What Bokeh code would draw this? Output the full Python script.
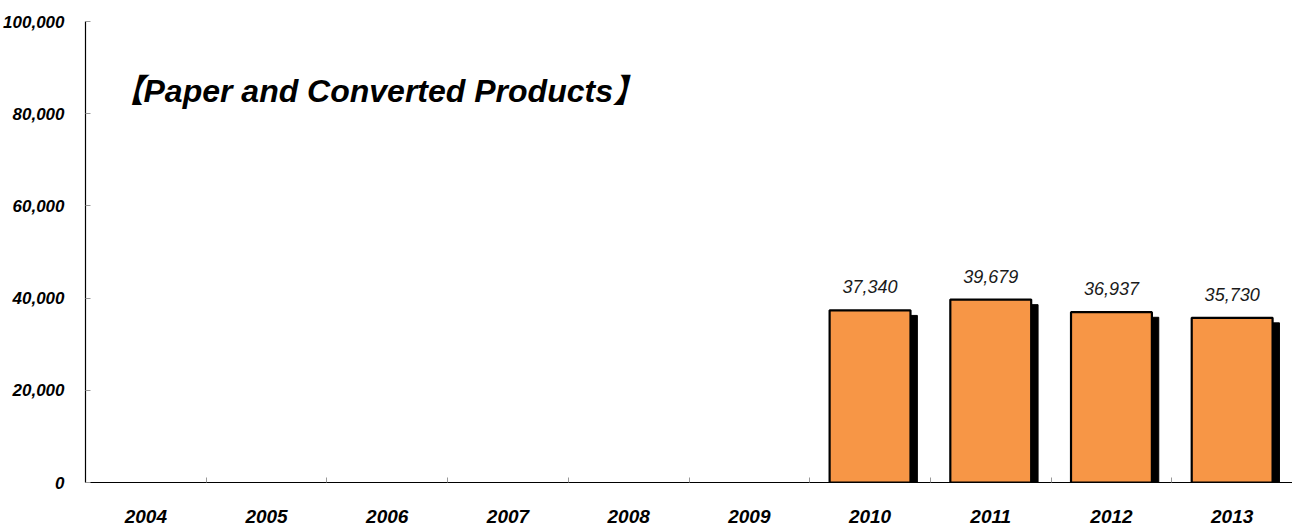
from bokeh.plotting import figure
from bokeh.models import (ColumnDataSource, FixedTicker, NumeralTickFormatter,
                          Label, Range1d)
from bokeh.embed import file_html
from bokeh.resources import INLINE
from bokeh.core.properties import value

# ---- data ----
years = [2004, 2005, 2006, 2007, 2008, 2009, 2010, 2011, 2012, 2013]
shipments = [None, None, None, None, None, None, 37340, 39679, 36937, 35730]
title_text = "【Paper and Converted Products】"
y_ticks = [0, 20000, 40000, 60000, 80000, 100000]

bar_years = [y for y, v in zip(years, shipments) if v is not None]
bar_vals = [v for v in shipments if v is not None]
labels = [f"{v:,}" for v in bar_vals]

src = ColumnDataSource(dict(x=bar_years, top=bar_vals, lab=labels,
                            sx=[y + 0.057 for y in bar_years],
                            stop=[v - 1100 for v in bar_vals]))

FONT = "Liberation Sans"

p = figure(width=1292, height=527, output_backend="svg", toolbar_location=None,
           x_range=Range1d(years[0] - 0.5, years[-1] + 0.5),
           y_range=Range1d(0, 100000),
           min_border_left=85, min_border_right=0, min_border_top=21,
           min_border_bottom=45)
p.outline_line_color = None
p.xgrid.visible = False
p.ygrid.visible = False
p.background_fill_color = "white"
p.border_fill_color = "white"

# shadow
p.vbar(x="sx", top="stop", bottom=0, width=0.67, source=src,
       fill_color="black", line_color="black")
# bars
p.vbar(x="x", top="top", bottom=0, width=0.67, source=src,
       fill_color="#F79646", line_color="black", line_width=2.2)
# value labels
p.text(x="x", y="top", text="lab", source=src, text_align="center",
       text_baseline="bottom", y_offset=-17,
       text_font=value(FONT), text_font_style="italic", text_font_size="18px",
       text_color="#1a1a1a")

# x axis
xa = p.xaxis[0]
xa.ticker = FixedTicker(ticks=years,
                        minor_ticks=[y - 0.5 for y in years] + [years[-1] + 0.5])
xa.major_tick_in = 0
xa.major_tick_out = 0
xa.minor_tick_in = 5
xa.minor_tick_out = 0
xa.minor_tick_line_color = "#999999"
xa.axis_line_color = "black"
xa.axis_line_width = 1.2
xa.major_label_standoff = 27
xa.major_label_text_font = FONT
xa.major_label_text_font_style = "bold italic"
xa.major_label_text_font_size = "19px"
xa.major_label_text_color = "black"

# y axis
ya = p.yaxis[0]
ya.ticker = FixedTicker(ticks=y_ticks, minor_ticks=[])
ya.formatter = NumeralTickFormatter(format="0,0")
ya.major_tick_in = 5
ya.major_tick_out = 0
ya.minor_tick_in = 0
ya.minor_tick_out = 0
ya.major_tick_line_color = "#999999"
ya.axis_line_color = "black"
ya.axis_line_width = 1.2
ya.major_label_standoff = 21
ya.major_label_text_font = FONT
ya.major_label_text_font_style = "bold italic"
ya.major_label_text_font_size = "17px"
ya.major_label_text_color = "black"

# title inside plot
p.add_layout(Label(x=26, y=392, x_units="screen", y_units="screen",
                   text=title_text, text_font="Liberation Sans, Noto Sans CJK JP",
                   text_font_style="bold italic", text_font_size="32px",
                   text_baseline="middle", text_color="black"))

open("out.html", "w").write(file_html(p, INLINE))
